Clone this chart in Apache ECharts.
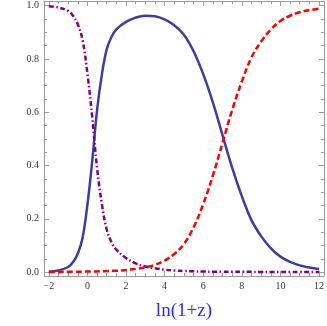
<!DOCTYPE html>
<html>
<head>
<meta charset="utf-8">
<script src="https://cdn.jsdelivr.net/npm/echarts@6/dist/echarts.min.js"></script>
<style>
html,body{margin:0;padding:0;background:#fff;}
#chart{width:327px;height:326px;}
</style>
</head>
<body>
<div id="chart"></div>
<script>
// x values: ln(1+z)
var xValues = [-2,-1.5,-1,-0.75,-0.5,-0.25,0,0.25,0.5,0.75,1,1.25,1.5,2,2.5,3,3.5,4,4.5,5,5.5,6,6.5,7,7.5,8,8.5,9,9.5,10,10.5,11,11.5,12];
// blue solid
var blueValues = [0.001,0.006,0.019,0.037,0.069,0.129,0.253,0.418,0.608,0.742,0.836,0.883,0.911,0.939,0.955,0.962,0.96,0.948,0.926,0.891,0.829,0.743,0.637,0.514,0.392,0.285,0.195,0.135,0.09,0.058,0.038,0.025,0.017,0.012];
// purple dot-dash
var purpleValues = [0.998,0.993,0.98,0.962,0.93,0.87,0.745,0.58,0.39,0.255,0.16,0.112,0.084,0.053,0.033,0.021,0.014,0.009,0.006,0.004,0.003,0.002,0.0015,0.001,0.001,0.001,0.0008,0.0006,0.0005,0.0004,0.0003,0.0002,0.0002,0.0001];
// red dashed
var redValues = [0.0005,0.0007,0.001,0.001,0.0012,0.0015,0.002,0.002,0.0025,0.003,0.004,0.0045,0.005,0.008,0.012,0.018,0.027,0.043,0.068,0.105,0.168,0.255,0.362,0.485,0.608,0.715,0.805,0.865,0.91,0.942,0.962,0.975,0.983,0.988];

var xMajorTicks = [-2,0,2,4,6,8,10,12];
var xMinorTicks = [-2,-1.5,-1,-0.5,0,0.5,1,1.5,2,2.5,3,3.5,4,4.5,5,5.5,6,6.5,7,7.5,8,8.5,9,9.5,10,10.5,11,11.5,12];
var yMajorTicks = [0,0.2,0.4,0.6,0.8,1.0];
var yMinorTicks = [0,0.05,0.1,0.15,0.2,0.25,0.3,0.35,0.4,0.45,0.5,0.55,0.6,0.65,0.7,0.75,0.8,0.85,0.9,0.95,1.0];
var xTitle = 'ln(1+z)';

function pairs(ys){ return xValues.map(function(x,i){ return [x, ys[i]]; }); }

var XMIN = -2.25, XMAX = 12.25, YMIN = -0.0147, YMAX = 1.0173;
var lineCol = '#9a9a9a';
var fontFam = '"Liberation Serif", "DejaVu Serif", serif';

function xAx(pos, major, withLabel, withLine, withName){
  return {
    type:'value', position:pos, min:XMIN, max:XMAX,
    splitLine:{show:false},
    axisLine:{show:withLine, onZero:false, lineStyle:{color:lineCol, width:1}},
    axisTick:{show:true, inside:true, length: major?5:3, customValues: major?xMajorTicks:xMinorTicks, lineStyle:{color:lineCol, width:1}},
    axisLabel:{show:withLabel, customValues:xMajorTicks, margin:5, color:'#333', fontFamily:fontFam, fontSize:10,
      formatter:function(v){ return v<0 ? '\u2212'+Math.abs(v) : String(v); }},
    name: withName ? xTitle : '',
    nameLocation:'middle', nameGap:26,
    nameTextStyle:{color:'#2a2aff', fontFamily:fontFam, fontSize:19}
  };
}
function yAx(pos, major, withLabel, withLine){
  return {
    type:'value', position:pos, min:YMIN, max:YMAX,
    splitLine:{show:false},
    axisLine:{show:withLine, onZero:false, lineStyle:{color:lineCol, width:1}},
    axisTick:{show:true, inside:true, length: major?5:3, customValues: major?yMajorTicks:yMinorTicks, lineStyle:{color:lineCol, width:1}},
    axisLabel:{show:withLabel, customValues:yMajorTicks, margin:5, color:'#333', fontFamily:fontFam, fontSize:10,
      formatter:function(v){ return v.toFixed(1); }}
  };
}

var chart = echarts.init(document.getElementById('chart'), null, {renderer:'canvas'});
chart.setOption({
  animation:false,
  backgroundColor:'#fff',
  grid:{left:44, right:1, top:1, bottom:45, containLabel:false},
  xAxis:[
    xAx('bottom', true, true, true, true),
    xAx('bottom', false, false, false, false),
    xAx('top', true, false, true, false),
    xAx('top', false, false, false, false)
  ],
  yAxis:[
    yAx('left', true, true, true),
    yAx('left', false, false, false),
    yAx('right', true, false, true),
    yAx('right', false, false, false)
  ],
  series:[
    {type:'line', data:pairs(blueValues), showSymbol:false, smooth:0.4,
      lineStyle:{color:'#3d3d9c', width:2.5}},
    {type:'line', data:pairs(purpleValues), showSymbol:false, smooth:0.4,
      lineStyle:{color:'#800080', width:2.5, type:[5,2.5,1.5,2.5]}},
    {type:'line', data:pairs(redValues), showSymbol:false, smooth:0.4,
      lineStyle:{color:'#ff0000', width:2.5, type:[6,3]}}
  ]
});
</script>
</body>
</html>
